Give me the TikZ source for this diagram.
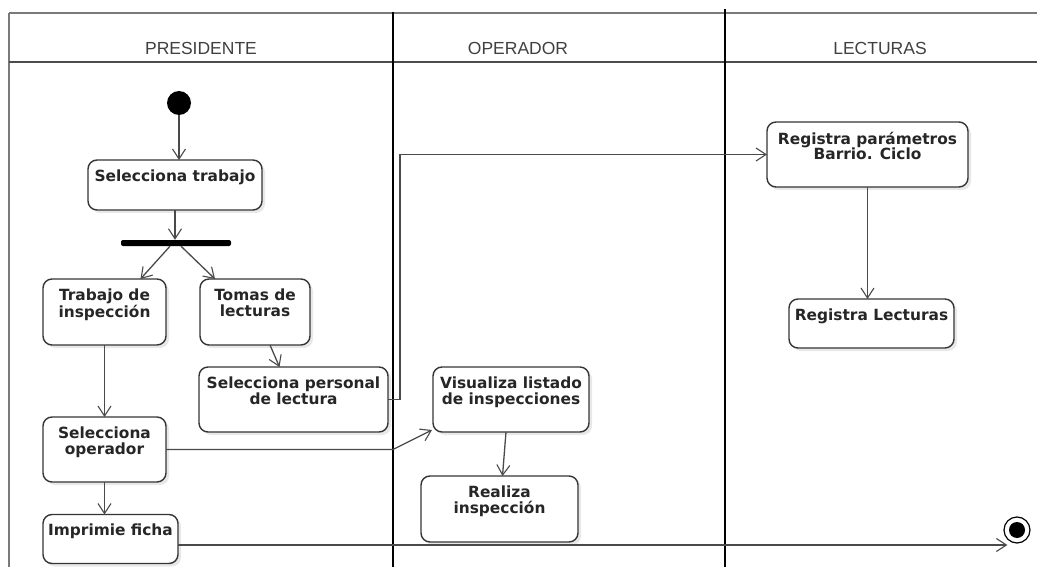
\documentclass[tikz,border=0pt]{standalone}
\usepackage{fontspec}
\setmainfont{Liberation Sans}
\newfontfamily\boxfont{DejaVu Sans}
\usetikzlibrary{arrows.meta,calc,shadows}

\definecolor{edge}{HTML}{353535}
\definecolor{wire}{HTML}{4A4A4A}
\definecolor{frame}{HTML}{7A7A7A}

\tikzset{
  act/.style={draw=edge, line width=1.4pt, rounded corners=9pt, fill=white,
    inner sep=0pt, outer sep=0pt,
    drop shadow={shadow xshift=3pt, shadow yshift=-3pt, opacity=0.18, fill=gray}},
  acttext/.style={anchor=north, yshift=-9.5pt, inner sep=0pt, align=center,
    font=\boxfont\bfseries\fontsize{15.4}{15.6}\selectfont, text=black!85},
  flow/.style={draw=wire, line width=1.3pt,
    -{Straight Barb[length=10pt, width=13pt, line width=1.1pt]}},
  lanehead/.style={font=\fontsize{17.5}{20}\selectfont, text=black!75, anchor=base},
  divider/.style={draw=black, line width=1.8pt},
}

\begin{document}
\begin{tikzpicture}[x=1pt, y=-1pt]
\useasboundingbox (0,0) rectangle (1037,567);

% swimlane frame
\coordinate (frameTL) at (9,13);
\coordinate (frameTR) at (1037,13);
\coordinate (frameBL) at (9,567);
\coordinate (headL) at (9,62);
\coordinate (headR) at (1037,62);
\coordinate (lane1top) at (393,12);
\coordinate (lane1bot) at (393,567);
\coordinate (lane2top) at (725,9);
\coordinate (lane2bot) at (725,567);
\draw[frame, line width=1.6pt] (frameTL) -- (frameTR);
\draw[frame, line width=1.4pt] (frameTL) -- (frameBL);
\draw[black!70, line width=2pt] (headL) -- (headR);
\draw[divider] (lane1top) -- (lane1bot);
\draw[divider] (lane2top) -- (lane2bot);

\node[lanehead] (hPres) at (201,55) {PRESIDENTE};
\node[lanehead] (hOper) at (518,55) {OPERADOR};
\node[lanehead] (hLect) at (880,55) {LECTURAS};

% initial, fork and final markers
\node[circle, fill=black, inner sep=0pt, minimum width=24pt, minimum height=23pt] (start) at (179,103) {};
\node[fill=black, rounded corners=2pt, inner sep=0pt, minimum width=110pt, minimum height=6pt] (bar) at (176,243) {};
\node[circle, draw=black, line width=1.2pt, fill=white, inner sep=0pt, minimum size=26pt,
  path picture={\fill[black] (path picture bounding box.center) circle (8pt);}] (end) at (1017,530) {};

% activities
\node[act, minimum width=174pt, minimum height=50pt,
  label={[acttext, name=selT]north:Selecciona trabajo}] (sel) at (175,185) {};
\node[act, minimum width=123pt, minimum height=66pt,
  label={[acttext, name=trabT]north:Trabajo de\\inspección}] (trab) at (104.5,312) {};
\node[act, minimum width=110pt, minimum height=66pt,
  label={[acttext, name=tomasT]north:Tomas de\\lecturas}] (tomas) at (255,312) {};
\node[act, minimum width=189pt, minimum height=65pt,
  label={[acttext, name=selperT]north:Selecciona personal\\de lectura}] (selper) at (293.5,399.5) {};
\node[act, minimum width=123pt, minimum height=65pt,
  label={[acttext, name=selopT]north:Selecciona\\operador}] (selop) at (104.5,449.5) {};
\node[act, minimum width=135pt, minimum height=49pt,
  label={[acttext, name=impT]north:Imprimie ficha}] (imp) at (110.5,539) {};
\node[act, minimum width=156pt, minimum height=65pt,
  label={[acttext, name=visT]north:Visualiza listado\\de inspecciones}] (vis) at (511,399.5) {};
\node[act, minimum width=157pt, minimum height=66pt,
  label={[acttext, name=realT]north:Realiza\\inspección}] (real) at (499.5,509) {};
\node[act, minimum width=201pt, minimum height=65pt,
  label={[acttext, name=regpT]north:Registra parámetros\\Barrio. Ciclo}] (regp) at (867.5,154.5) {};
\node[act, minimum width=165pt, minimum height=49pt,
  label={[acttext, name=reglT]north:Registra Lecturas}] (regl) at (871.5,323.5) {};

% control flow
\draw[flow] (start.south) -- (start.south |- sel.north);
\draw[flow] (sel.south) -- (sel.south |- bar.north);
\draw[flow] ($(bar.south)+(-6,0)$) -- ($(trab.north)+(36,0)$);
\draw[flow] ($(bar.south)+(5,0)$) -- ($(tomas.north)+(-40,0)$);
\draw[flow] (trab.south) -- (selop.north);
\draw[flow] (selop.south) -- (selop.south |- imp.north);
\draw[flow] ($(tomas.south)+(15,0)$) -- ($(selper.north)+(-14,0)$);
\draw[flow] (selper.east) -- ++(12,0) |- (regp.west);
\draw[flow] (regp.south) -- (regp.south |- regl.north);
\draw[flow] (selop.east) -- (selop.east -| lane1top) -- ($(vis.south west)+(-1,-2)$);
\draw[flow] ($(vis.south)+(-5,0)$) -- ($(real.north)+(3,0)$);
\coordinate (impout) at ($(imp.east)+(0,6)$);
\draw[flow] (impout) -- (impout -| end.south west);
\end{tikzpicture}
\end{document}
